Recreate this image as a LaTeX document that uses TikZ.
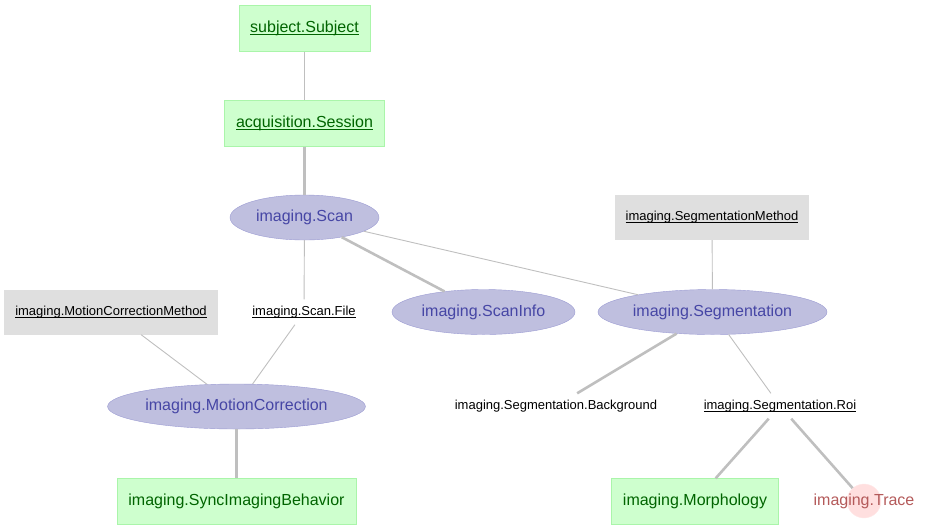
\documentclass[tikz,border=0pt]{standalone}
\usepackage{fontspec}
\setmainfont{Liberation Sans}
\usetikzlibrary{shapes.geometric}

\definecolor{manualfill}{RGB}{206,255,206}
\definecolor{manualline}{RGB}{170,245,170}
\definecolor{manualtext}{RGB}{0,100,0}
\definecolor{importfill}{RGB}{191,191,223}
\definecolor{importline}{RGB}{155,155,210}
\definecolor{importtext}{RGB}{70,70,165}
\definecolor{lookupfill}{RGB}{223,223,223}
\definecolor{computefill}{RGB}{255,223,223}
\definecolor{computetext}{RGB}{180,90,90}
\definecolor{edgegray}{RGB}{191,191,191}

\newcommand\pkey[1]{\setbox0\hbox{#1}\rlap{\rule[-0.16em]{\wd0}{0.06em}}#1}

\begin{document}
\begin{tikzpicture}[x=1pt,y=-1pt,
  manual/.style={rectangle,fill=manualfill,draw=manualline,text=manualtext,
    font=\fontsize{16}{19}\selectfont,minimum height=46,inner xsep=11.5},
  imported/.style={ellipse,fill=importfill,draw=importline,text=importtext,
    font=\fontsize{16}{19}\selectfont,inner sep=0pt,minimum height=45},
  lookup/.style={rectangle,fill=lookupfill,text=black,
    font=\fontsize{13}{15}\selectfont,minimum height=45,inner xsep=11},
  part/.style={rectangle,text=black,font=\fontsize{13}{15}\selectfont,
    minimum height=25,inner xsep=2},
  computed/.style={circle,fill=computefill,draw=computefill!80!red!30,minimum size=34,inner sep=0pt},
  computedtext/.style={text=computetext,font=\fontsize{16}{19}\selectfont},
  thin/.style={draw=edgegray,line width=0.9pt},
  thick/.style={draw=edgegray,line width=2.6pt}]
  \useasboundingbox (0,0) rectangle (931,531);

  \node[manual] (subject) at (304.5,28.5) {\pkey{subject.Subject}};
  \node[manual] (session) at (304.5,123.5) {\pkey{acquisition.Session}};
  \node[imported,minimum width=149] (scan) at (304.5,217.5) {imaging.Scan};
  \node[lookup] (segmethod) at (712,217.5) {\pkey{imaging.SegmentationMethod}};
  \node[lookup] (mcmethod) at (111,312) {\pkey{imaging.MotionCorrectionMethod}};
  \node[part] (scanfile) at (304,312) {\pkey{imaging.Scan.File}};
  \node[imported,minimum width=183] (scaninfo) at (483.5,312) {imaging.ScanInfo};
  \node[imported,minimum width=229] (segmentation) at (712.5,312) {imaging.Segmentation};
  \node[imported,minimum width=257] (motioncorr) at (236.5,406.5) {imaging.MotionCorrection};
  \node[part] (background) at (556,406) {imaging.Segmentation.Background};
  \node[part] (roi) at (780,406) {\pkey{imaging.Segmentation.Roi}};
  \node[manual] (syncbehavior) at (236.5,501.5) {imaging.SyncImagingBehavior};
  \node[manual] (morphology) at (695,501.5) {imaging.Morphology};
  \node[computed] (trace) at (864,501) {};
  \node[computedtext] (tracetext) at (trace) {imaging.Trace};

  \draw[thin] (subject) -- (session);
  \draw[thick] (session) -- (scan);
  \draw[thick] (scan) -- (scaninfo);
  \draw[thin] (scan) -- (segmentation);
  \draw[thin] (scan) -- (scanfile);
  \draw[thin] (segmethod) -- (segmentation);
  \draw[thin] (mcmethod) -- (motioncorr);
  \draw[thin] (scanfile) -- (motioncorr);
  \draw[thick] (motioncorr) -- (syncbehavior);
  \draw[thick] (segmentation) -- (background);
  \draw[thin] (segmentation) -- (roi);
  \draw[thick] (roi) -- (morphology);
  \draw[thick] (roi) -- (trace);
\end{tikzpicture}
\end{document}
